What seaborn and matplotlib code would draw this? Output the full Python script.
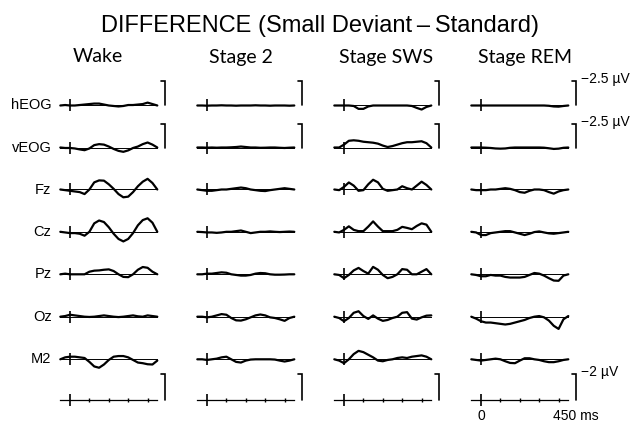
import matplotlib
matplotlib.use('Agg')
import matplotlib.pyplot as plt
import seaborn as sns

## data (µV, negative plotted upward)
times = [-50, -25, 0, 25, 50, 75, 100, 125, 150, 175, 200,
         225, 250, 275, 300, 325, 350, 375, 400, 425, 450]

stages = ['Wake', 'Stage 2', 'Stage SWS', 'Stage REM']
channels = ['hEOG', 'vEOG', 'Fz', 'Cz', 'Pz', 'Oz', 'M2']

wake_heog = [0, -0.05, 0, 0, -0.05, -0.1, -0.15, -0.2, -0.2, -0.1, 0, 0.05, 0.1, 0.05, -0.05, -0.05, -0.1, -0.15, -0.3, -0.15, 0]
wake_veog = [0, 0.05, 0.05, 0.1, 0.2, 0.28, 0.1, -0.25, -0.35, -0.3, -0.1, 0.15, 0.35, 0.45, 0.3, 0.05, -0.1, -0.35, -0.52, -0.3, 0]
wake_fz = [0, 0.05, 0.1, 0.15, 0.2, 0.35, 0.0, -0.55, -0.7, -0.68, -0.4, -0.05, 0.35, 0.6, 0.55, 0.2, -0.25, -0.6, -0.82, -0.5, 0]
wake_cz = [0, 0.05, 0.1, 0.1, 0.15, 0.3, 0.0, -0.65, -0.87, -0.75, -0.35, 0.15, 0.55, 0.74, 0.55, 0.1, -0.5, -0.9, -1.04, -0.7, 0]
wake_pz = [0, -0.05, 0, 0, 0, 0, -0.2, -0.28, -0.3, -0.35, -0.38, -0.25, 0.0, 0.2, 0.22, 0.0, -0.35, -0.56, -0.5, -0.2, 0]
wake_oz = [0, -0.05, -0.15, -0.1, -0.05, 0, 0.02, 0, -0.05, -0.1, -0.05, 0, 0.03, 0, -0.05, -0.1, -0.03, 0, -0.1, -0.05, 0]
wake_m2 = [0, -0.15, -0.2, -0.2, -0.15, -0.1, 0.2, 0.55, 0.65, 0.4, 0.05, -0.2, -0.25, -0.25, -0.15, 0.05, 0.25, 0.3, 0.38, 0.4, 0.1]

s2_heog = [0, 0, 0.02, 0, 0, -0.02, 0, 0, 0.02, 0, 0, 0, -0.02, 0, 0, 0.02, 0, 0, 0, 0.02, 0]
s2_veog = [0, 0, 0.02, 0, 0.02, 0, 0, -0.02, -0.05, -0.1, -0.05, 0, 0, 0.03, 0.02, 0, 0, 0.03, 0.05, 0.02, 0]
s2_fz = [0, 0.05, 0.1, 0.1, 0.05, 0, 0, -0.05, -0.1, -0.15, -0.1, 0, 0.05, 0.1, 0.12, 0.05, 0, -0.05, -0.1, -0.05, 0]
s2_cz = [0, 0.02, 0.05, 0.05, 0.08, 0.05, 0, 0, -0.05, -0.1, 0, 0.1, 0.05, 0, 0, -0.03, 0, 0.02, 0, -0.02, 0]
s2_pz = [0, 0, -0.05, -0.05, -0.1, -0.15, -0.12, 0, 0.05, 0.1, 0.1, 0.05, -0.05, -0.1, -0.08, 0, 0.03, 0.03, 0.02, 0, 0]
s2_oz = [0, 0, 0.05, 0, -0.1, -0.2, -0.15, 0.1, 0.28, 0.3, 0.2, 0.05, -0.1, -0.17, -0.1, 0.05, 0.1, 0.2, 0.32, 0.1, 0]
s2_m2 = [0, 0, 0.05, 0, -0.05, -0.15, -0.2, 0, 0.2, 0.25, 0.1, 0.02, 0, 0, 0, 0, 0.02, 0.1, 0.17, 0.1, 0]

sws_heog = [0, 0, 0, 0, 0.05, 0.35, 0.35, 0.1, 0, 0, 0, 0, 0, 0, 0, 0, 0.05, 0.25, 0.42, 0.15, 0]
sws_veog = [0, 0, -0.3, -0.7, -0.75, -0.7, -0.6, -0.55, -0.5, -0.4, -0.2, -0.05, -0.15, -0.3, -0.45, -0.55, -0.55, -0.6, -0.65, -0.45, 0]
sws_fz = [0, 0.05, -0.2, -0.54, -0.3, 0.1, 0.05, -0.4, -0.75, -0.55, -0.05, 0.1, 0.05, 0, -0.25, -0.1, 0, -0.3, -0.6, -0.35, 0]
sws_cz = [0, 0.05, -0.15, -0.42, -0.15, -0.05, -0.05, -0.4, -0.8, -0.4, -0.05, -0.05, -0.05, -0.15, -0.38, -0.3, -0.2, -0.45, -0.65, -0.55, 0]
sws_pz = [0, 0.05, 0.3, 0.05, -0.3, -0.49, -0.25, -0.05, -0.57, -0.35, 0.05, 0.3, 0.2, 0.0, -0.4, -0.35, 0.0, 0.0, -0.2, -0.4, 0]
sws_oz = [0, 0.1, 0.35, 0.1, -0.3, -0.42, -0.05, 0.17, -0.1, 0.15, 0.32, 0.25, 0.1, 0, -0.3, -0.35, 0.15, 0.22, 0.05, -0.08, -0.1]
sws_m2 = [0, 0.1, 0.3, 0.0, -0.4, -0.65, -0.55, -0.35, -0.15, 0.1, 0.15, 0.05, 0, -0.1, -0.15, -0.1, -0.2, -0.25, -0.3, -0.2, 0]

rem_heog = [0, 0, 0, 0, 0, 0, 0, 0, 0, 0, 0, 0, 0, 0, 0, 0, 0.03, 0.1, 0.12, 0.05, 0]
rem_veog = [0, 0, 0, 0.02, 0.05, 0.1, 0.12, 0.1, 0.03, 0, 0, 0, 0, 0, 0, 0.02, 0.08, 0.15, 0.12, 0.03, 0]
rem_fz = [0, 0.05, 0.05, 0.05, 0, 0, -0.05, -0.1, -0.05, 0.05, 0.2, 0.25, 0.1, 0, 0, 0.05, 0.2, 0.32, 0.15, 0.05, 0]
rem_cz = [0, 0.05, 0.25, 0.25, 0.1, 0.05, 0, -0.05, -0.05, 0.05, 0.15, 0.25, 0.15, 0.02, -0.03, 0.05, 0.12, 0.15, 0.1, 0.05, 0]
rem_pz = [0, 0.05, 0.15, 0.15, 0.05, 0.1, 0.1, 0.2, 0.25, 0.25, 0.25, 0.2, 0.05, -0.1, -0.05, 0.1, 0.3, 0.48, 0.5, 0.1, 0]
rem_oz = [0, 0.15, 0.35, 0.45, 0.45, 0.5, 0.55, 0.6, 0.55, 0.45, 0.35, 0.25, 0.1, 0, -0.05, 0.05, 0.3, 0.7, 0.94, 0.2, -0.05]
rem_m2 = [0, 0.05, 0.1, 0.05, 0, -0.05, 0, 0.15, 0.28, 0.3, 0.1, -0.08, -0.08, 0, 0.05, 0.15, 0.22, 0.22, 0.15, 0.05, 0]

waves = {
    'Wake': [wake_heog, wake_veog, wake_fz, wake_cz, wake_pz, wake_oz, wake_m2],
    'Stage 2': [s2_heog, s2_veog, s2_fz, s2_cz, s2_pz, s2_oz, s2_m2],
    'Stage SWS': [sws_heog, sws_veog, sws_fz, sws_cz, sws_pz, sws_oz, sws_m2],
    'Stage REM': [rem_heog, rem_veog, rem_fz, rem_cz, rem_pz, rem_oz, rem_m2],
}

eog_bar = -2.5
eeg_bar = -2.0
scale_ticks = [100, 200, 300, 400]

## layout (pixels)
W, H = 635, 423
px_per_ms = 0.194
zero_px = [70, 207, 344, 481]
base_px = [105.5, 147.5, 189.5, 231.8, 274.3, 316.7, 359.3, 400]
title_px = [97.5, 240.7, 385.8, 525]
x_lo, x_hi = -100, 600
up_px, down_px = 22, 20
bar_x = 490

sns.set_style('white')
plt.rcParams['font.family'] = ['Liberation Sans', 'DejaVu Sans']
plt.rcParams['text.color'] = 'black'

fig = plt.figure(figsize=(W / 100, H / 100), dpi=100)

fig.text(320 / W, 1 - 32 / H,
         'DIFFERENCE (Small Deviant\u2009\u2013\u2009Standard)',
         ha='center', va='baseline', fontsize=17)

for c, stage in enumerate(stages):
    fig.text(title_px[c] / W, 1 - 62.5 / H, stage,
             ha='center', va='baseline', fontsize=14,
             family=['Lato', 'DejaVu Sans'])

    left = zero_px[c] + x_lo * px_per_ms
    width = (x_hi - x_lo) * px_per_ms

    for r in range(8):
        k = 9.6 if r < 2 else 13.0  # px per µV
        ax = fig.add_axes([left / W, 1 - (base_px[r] + down_px) / H,
                           width / W, (up_px + down_px) / H])
        ax.patch.set_visible(False)
        ax.set_xlim(x_lo, x_hi)
        ax.set_ylim(down_px / k, -up_px / k)
        for s in ['top', 'right', 'left']:
            ax.spines[s].set_visible(False)
        sp = ax.spines['bottom']
        sp.set_position(('data', 0))
        sp.set_bounds(times[0], times[-1])
        sp.set_color('black')
        sp.set_linewidth(0.9 if r == 7 else 0.7)
        ax.set_yticks([])
        ax.set_xticks([0])
        ax.tick_params(axis='x', which='major', direction='inout',
                       length=9, width=1.2, color='black',
                       labelbottom=False, bottom=True)

        if r < 7:
            sns.lineplot(x=times, y=waves[stage][r], ax=ax,
                         color='black', linewidth=1.6)
            if c == 0:
                ax.text(-95, 0, channels[r], ha='right', va='center',
                        fontsize=10.5)
        else:
            ax.set_xticks(scale_ticks, minor=True)
            ax.tick_params(axis='x', which='minor', direction='inout',
                           length=3, width=1.0, color='black', bottom=True)

        # calibration bars
        if r < 2 or r == 7:
            bar = eog_bar if r < 2 else eeg_bar
            ax.plot([bar_x - 22, bar_x, bar_x], [bar, bar, 0],
                    color='black', lw=1.2, clip_on=False,
                    solid_joinstyle='miter')
            if c == 3:
                lab = '\u22122.5 \u00b5V' if r < 2 else '\u22122 \u00b5V'
                ax.text(bar_x + 28, bar - 2 / k, lab, ha='left',
                        va='center', fontsize=10)

        if r == 7 and c == 3:
            ax.text(0, 16 / k, '0', ha='center', va='center', fontsize=10)
            ax.text(372, 16 / k, '450 ms', ha='left', va='center',
                    fontsize=10)

plt.savefig('out.png', dpi=100)
